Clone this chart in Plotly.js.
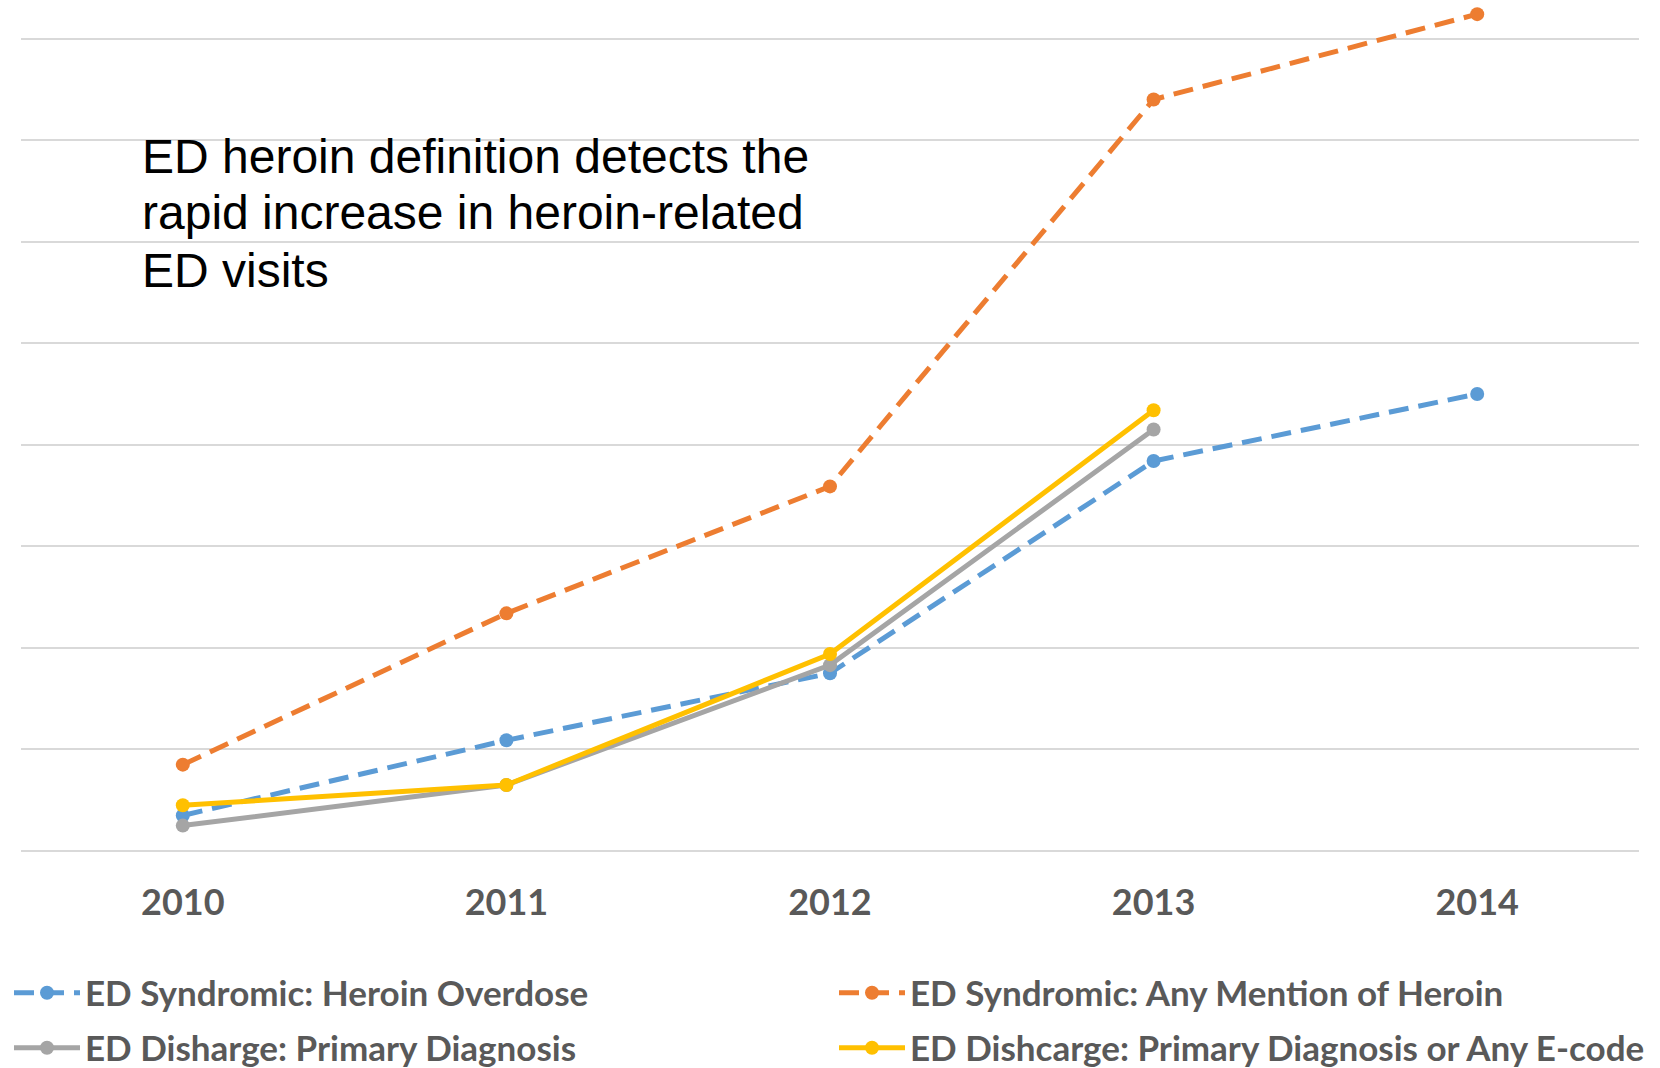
<!DOCTYPE html>
<html>
<head>
<meta charset="utf-8">
<script src="https://cdn.plot.ly/plotly-3.0.1.min.js"></script>
<style>html,body{margin:0;padding:0;background:#fff;}#chart{width:1660px;height:1068px;}</style>
</head>
<body>
<div id="chart"></div>
<script>
// ---- data ----
const years = ["2010", "2011", "2012", "2013", "2014"];
const overdose = [0.35, 1.09, 1.75, 3.84, 4.50];
const anyMention = [0.85, 2.34, 3.59, 7.40, 8.24];
const primaryDx = [0.25, 0.65, 1.83, 4.15, null];
const primaryOrEcode = [0.45, 0.65, 1.94, 4.34, null];
const seriesNames = [
  "ED Syndromic: Heroin Overdose",
  "ED Syndromic: Any Mention of Heroin",
  "ED Disharge: Primary Diagnosis",
  "ED Dishcarge: Primary Diagnosis or Any E-code"
];
const gridVals = [0, 1, 2, 3, 4, 5, 6, 7, 8];
const noteLines = [
  "ED heroin definition detects the",
  "rapid increase in heroin-related",
  "ED visits"
];

// ---- layout helpers ----
const W = 1660, H = 1068;
const M = {l: 21, r: 21, t: 3, b: 216, autoexpand: false};
const plotW = W - M.l - M.r, plotH = H - M.t - M.b;
const px2x = x => (x - M.l) / plotW;
const px2y = y => (H - M.b - y) / plotH;

const colors = ["#5B9BD5", "#ED7D31", "#A5A5A5", "#FFC000"];
const dash = "20px,10px";
const legIds = ["legend", "legend2", "legend3", "legend4"];
function tr(y, i, dashed) {
  return {
    x: years, y: y, name: seriesNames[i], type: "scatter", mode: "lines+markers",
    line: {color: colors[i], width: 5, dash: dashed ? dash : "solid"},
    marker: {color: colors[i], size: 14},
    legend: legIds[i], cliponaxis: false, connectgaps: false
  };
}
const data = [
  tr(overdose, 0, true),
  tr(anyMention, 1, true),
  tr(primaryDx, 2, false),
  tr(primaryOrEcode, 3, false)
];

const legFont = {family: "Lato, 'Open Sans', sans-serif", size: 35, color: "#595959", weight: "bold"};
function leg(xpx, ypx) {
  return {
    orientation: "h", xanchor: "left", yanchor: "middle",
    x: px2x(xpx), y: px2y(ypx),
    font: legFont, itemwidth: 66, bgcolor: "rgba(0,0,0,0)", borderwidth: 0
  };
}

const annotations = noteLines.map((t, k) => ({
  text: t, xref: "paper", yref: "paper", x: px2x(140), y: px2y([157, 213, 270][k]),
  xanchor: "left", yanchor: "middle", showarrow: false,
  font: {family: "'Liberation Sans', Arial, sans-serif", size: 48, color: "#000000"}
}));

const layout = {
  width: W, height: H, margin: M, paper_bgcolor: "#fff", plot_bgcolor: "#fff",
  showlegend: true,
  legend: leg(9, 993),
  legend2: leg(834, 993),
  legend3: leg(9, 1048),
  legend4: leg(834, 1048),
  xaxis: {
    type: "category", range: [-0.5, 4.5], showgrid: false, zeroline: false, showline: false,
    ticks: "", tickfont: {family: "Lato, 'Open Sans', sans-serif", size: 36, color: "#595959", weight: "bold"},
    ticklabelstandoff: 26, fixedrange: true, automargin: false
  },
  yaxis: {
    range: [-0.01, 8.35], tickvals: gridVals, showticklabels: false, showgrid: true,
    gridcolor: "#D9D9D9", gridwidth: 2, zeroline: false, showline: false, ticks: "", fixedrange: true
  },
  shapes: [{
    type: "rect", xref: "paper", yref: "paper", layer: "between",
    x0: px2x(125), x1: px2x(892), y0: px2y(300), y1: px2y(112),
    fillcolor: "#ffffff", line: {width: 0}
  }],
  annotations: annotations
};

Plotly.newPlot("chart", data, layout, {displayModeBar: false, staticPlot: true});
</script>
</body>
</html>
